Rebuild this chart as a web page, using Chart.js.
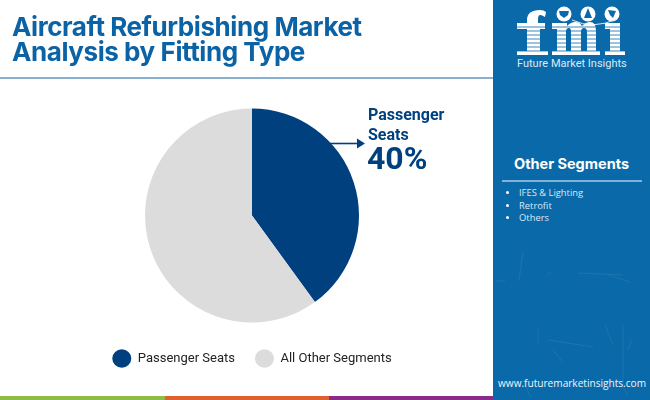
<!DOCTYPE html>
<html>
<head>
<meta charset="utf-8">
<script src="https://cdn.jsdelivr.net/npm/chart.js@4"></script>
<style>
  html, body { margin: 0; padding: 0; background: #fff; }
  #page { position: relative; width: 650px; height: 400px; overflow: hidden; background: #fff; }
  #page div { position: absolute; white-space: nowrap; }
  #chartWrap { left: 0; top: 0; width: 504px; height: 400px; }
  #title { left: 12px; top: 14px; font: 700 26px/25px Inter, sans-serif; letter-spacing: -0.43px; color: #0b62a4; }
  #titleRule { left: 0; top: 77px; width: 493px; height: 2px; background: #8ab0d0; }
  #panel { left: 493px; top: 0; width: 157px; height: 400px; background: #0a69a9; }
  #panel svg { position: absolute; left: 0; top: 0; }
  #calloutName { left: 368px; top: 105px; font: 700 16px/20px Roboto, sans-serif; color: #01407f; }
  #calloutValue { left: 367px; top: 140px; font: 700 32px/36px Roboto, sans-serif; color: #01407f; }
  #logoText { left: 517px; top: 57px; font: 400 11px/14px Roboto, sans-serif; color: #dcebf6; }
  #otherTitle { left: 493px; width: 157px; top: 155px; text-align: center; font: 700 14.5px/18px Inter, sans-serif; color: #fff; }
  #otherRule { left: 502px; top: 180px; width: 140px; height: 2px; background: #7fb2d6; }
  .other { left: 519px; font: 400 9.4px/12px "Open Sans", sans-serif; color: #d8e9f5; }
  .bullet { left: 506px; width: 3px; height: 3px; border-radius: 50%; background: #fff; }
  #site { left: 498px; top: 376px; font: 400 10.1px/14px "Open Sans", sans-serif; color: #eef6fb; }
  .strip { top: 396px; height: 4px; }
</style>
</head>
<body>
<div id="page">
  <div id="chartWrap"><canvas id="fittingChart" width="504" height="400"></canvas></div>
  <div id="title">Aircraft Refurbishing Market<br>Analysis by Fitting Type</div>
  <div id="titleRule"></div>
  <div id="calloutName"></div>
  <div id="calloutValue"></div>
  <div class="strip" style="left:0;width:165px;background:#8fbc45"></div>
  <div class="strip" style="left:165px;width:164px;background:#e0602f"></div>
  <div class="strip" style="left:329px;width:164px;background:#8a2a8a"></div>
  <div id="panel">
    <svg width="157" height="400">
      <!-- faint scratches in the panel texture -->
      <g stroke="#ffffff" stroke-opacity="0.08" fill="none">
        <path d="M30 252L26 280M3 281H12M58 272L54 275M85 273L130 275M115 275L137 282M45 327V345M55 340L100 347M112 325L120 345M130 325V385M135 350L139 340M60 350L70 362M30 380L38 398M125 380L135 395"/>
      </g>
      <!-- logo globes and swoosh -->
      <g fill="#fff">
        <circle cx="71" cy="14" r="7.5"/>
        <circle cx="95" cy="14" r="7.5"/>
        <circle cx="119" cy="14" r="7.5"/>
      </g>
      <g fill="#0a69a9">
        <path d="M66 11L76 11L75 15L71 18L67 15Z"/>
        <path d="M95 8L99 18L91 18Z"/>
        <path d="M115 10L123 11L120 18L117 15Z"/>
      </g>
      <path d="M79 20Q100 30 124 19" stroke="#dcebf6" stroke-width="1" fill="none"/>
      <!-- logo letters, striped -->
      <g fill="#fff">
        <path d="M24 55V51H34V29H24V23H34V20Q34 10 47 10Q51 10 53 12L52 17Q49 15 47 15Q45 15 45 20V23H52V29H47V51H55V55Z"/>
        <path d="M59 55V51H64V29H59V23H74V26Q78 22 82 22Q87 22 89 26Q93 22 97 22Q103 22 103 31V51H107V55H91V51H94V32Q94 28 91 28Q88 28 88 32V51H91V55H75V51H78V32Q78 28 76 28Q73 28 73 32V51H77V55Z"/>
        <path d="M112 55V51H117V29H112V23H127V51H132V55Z"/>
      </g>
      <g stroke="#0a69a9" stroke-width="0.8">
        <path d="M22 27H135M22 31H135M22 35H135M22 39H135M22 43H135M22 47H135M22 51H135"/>
      </g>
    </svg>
  </div>
  <div id="logoText">Future Market Insights</div>
  <div id="otherTitle">Other Segments</div>
  <div id="otherRule"></div>
  <div id="otherList"></div>
  <div id="site">www.futuremarketinsights.com</div>
</div>

<script>
// Chart data
const categories = ['Passenger Seats', 'All Other Segments'];
const shares = [40, 60];
const otherSegments = ['IFES & Lighting', 'Retrofit', 'Others'];

const colors = {
    navy: '#01407f',
    grey: '#dcdcdc'
};

// Callout text
document.getElementById('calloutName').innerHTML = categories[0].replace(' ', '<br>');
document.getElementById('calloutValue').textContent = shares[0] + '%';

// Side panel list
const listEl = document.getElementById('otherList');
otherSegments.forEach(function(name, i) {
    const top = 187 + i * 12.5;
    listEl.innerHTML += '<div class="bullet" style="top:' + (top + 4) + 'px"></div>' +
        '<div class="other" style="top:' + top + 'px">' + name.replace('&', '&amp;') + '</div>';
});

// Arrow from the first slice to its callout
const calloutArrow = {
    id: 'calloutArrow',
    afterDatasetsDraw(chart) {
        const arc = chart.getDatasetMeta(0).data[0];
        const ctx = chart.ctx;
        const y = arc.y - 72;
        const x1 = 365;
        ctx.save();
        ctx.strokeStyle = colors.navy;
        ctx.fillStyle = colors.navy;
        ctx.lineWidth = 1.6;
        ctx.beginPath();
        ctx.moveTo(arc.x + 75, y);
        ctx.lineTo(x1 - 6, y);
        ctx.stroke();
        ctx.beginPath();
        ctx.moveTo(x1, y);
        ctx.lineTo(x1 - 8, y - 5);
        ctx.lineTo(x1 - 8, y + 5);
        ctx.closePath();
        ctx.fill();
        ctx.restore();
    }
};

new Chart(document.getElementById('fittingChart'), {
    type: 'pie',
    data: {
        labels: categories,
        datasets: [{
            data: shares,
            backgroundColor: [colors.navy, colors.grey],
            borderWidth: 0,
            radius: 107
        }]
    },
    options: {
        responsive: false,
        animation: false,
        layout: {
            padding: { top: 99, bottom: 25 }
        },
        plugins: {
            tooltip: { enabled: false },
            legend: {
                position: 'bottom',
                labels: {
                    usePointStyle: true,
                    pointStyle: 'circle',
                    pointStyleWidth: 19,
                    padding: 20,
                    color: '#222',
                    font: { family: 'Roboto, sans-serif', size: 13 }
                }
            }
        }
    },
    plugins: [calloutArrow]
});
</script>
</body>
</html>
